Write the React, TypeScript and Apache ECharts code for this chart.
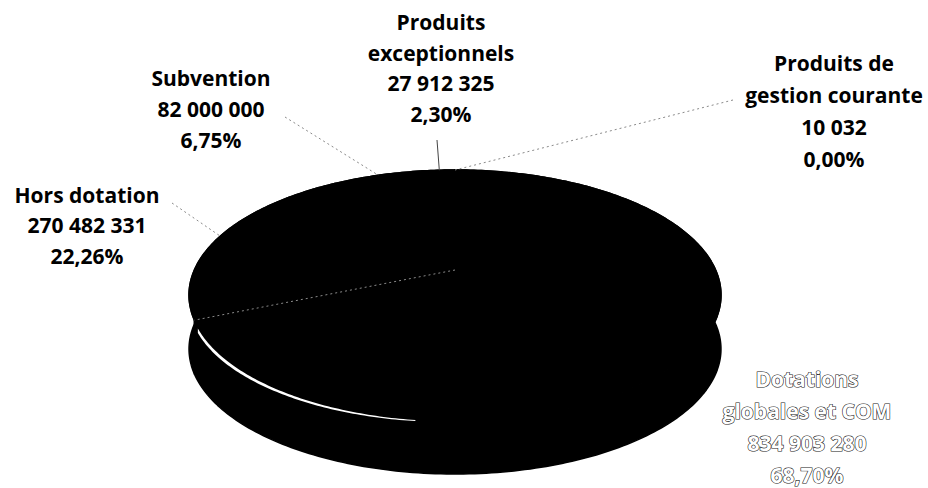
import React, { useEffect, useRef } from "react";
import * as echarts from "echarts";

// ---- data ----
const categories = [
  "Dotations globales et COM",
  "Hors dotation",
  "Subvention",
  "Produits exceptionnels",
  "Produits de gestion courante",
];
const labelNames = [
  "Dotations\nglobales et COM",
  "Hors dotation",
  "Subvention",
  "Produits\nexceptionnels",
  "Produits de\ngestion courante",
];
const values = [834903280, 270482331, 82000000, 27912325, 10032];

// ---- layout (pixels) ----
const CX = 455;
const CY = 270;
const SX = 260.6;
const SY = 120;
const K = -0.2; // perspective
const DEPTH = 54;
const labelCenters: number[][] = [
  [807, 427],
  [87, 225],
  [211, 109],
  [441, 68],
  [834, 111],
];
const labelLineHeights = [32, 30.5, 31, 30.7, 32];
const labelLineStarts: (number[] | null)[] = [
  null,
  [172, 203],
  [285, 117],
  [437, 140],
  [733, 100],
];

const total = values.reduce((a, b) => a + b, 0);
const starts: number[] = [];
const ends: number[] = [];
{
  let acc = 0;
  values.forEach((v) => {
    starts.push((acc / total) * 360);
    acc += v;
    ends.push((acc / total) * 360);
  });
}

function proj(thetaDeg: number, r = 1): [number, number] {
  const t = (thetaDeg * Math.PI) / 180;
  const u = r * Math.sin(t);
  const v = -r * Math.cos(t);
  const d = 1 + K * v;
  return [CX + (SX * u) / d, CY + (SY * v) / d];
}

function rim(a0: number, a1: number, dy = 0): number[][] {
  const pts: number[][] = [];
  const n = Math.max(2, Math.ceil(Math.abs(a1 - a0) / 1));
  for (let i = 0; i <= n; i++) {
    const a = a0 + ((a1 - a0) * i) / n;
    const p = proj(a);
    pts.push([p[0], p[1] + dy]);
  }
  return pts;
}

const fmtNum = (v: number) => String(v).replace(/\B(?=(\d{3})+(?!\d))/g, " ");
const fmtPct = (v: number) => ((v / total) * 100).toFixed(2).replace(".", ",") + "%";

export default function App() {
  const ref = useRef<HTMLDivElement>(null);
  useEffect(() => {
    if (!ref.current) return;
    const chart = echarts.init(ref.current, undefined, { renderer: "svg" });
    const renderItem = (params: any, api: any) => {
      const idx = params.dataIndex;
      const value = api.value(1);
      const a0 = starts[idx];
      const a1 = ends[idx];
      const children: any[] = [];
      const top = rim(a0, a1);
      const bottom = rim(a0, a1, DEPTH).reverse();
      children.push({
        type: "polygon",
        shape: { points: top.concat(bottom) },
        style: { fill: "#000", stroke: "#000", lineWidth: 1.5, lineJoin: "round" },
        z2: 1,
      });
      children.push({
        type: "polygon",
        shape: { points: [[CX, CY]].concat(top) },
        style: { fill: "#000", stroke: "#000", lineWidth: 1.5, lineJoin: "round" },
        z2: 5,
      });
      if (idx === 0) {
        const p = proj(a1);
        children.push({
          type: "line",
          shape: { x1: CX, y1: CY, x2: p[0], y2: p[1] },
          style: { stroke: "#8a8a8a", lineWidth: 1, lineDash: [2, 3] },
          z2: 10,
        });
        // rim highlight
        const hs = a1 - 3;
        const he = 187;
        const n = 80;
        const outer: number[][] = [];
        const inner: number[][] = [];
        for (let i = 0; i <= n; i++) {
          const t = i / n;
          const a = hs + (he - hs) * t;
          const q = proj(a);
          const w = 4.5 * (1 - t) + 1 * t;
          outer.push([q[0], q[1] + 1.5]);
          inner.push([q[0], q[1] + 1.5 + w]);
        }
        children.push({
          type: "polygon",
          shape: { points: outer.concat(inner.reverse()) },
          style: { fill: "#fff" },
          z2: 11,
        });
      }
      const ls = labelLineStarts[idx];
      if (ls) {
        const e = proj((a0 + a1) / 2);
        children.push({
          type: "line",
          shape: { x1: ls[0], y1: ls[1], x2: e[0], y2: e[1] },
          style:
            idx === 3
              ? { stroke: "#444", lineWidth: 1 }
              : { stroke: "#8a8a8a", lineWidth: 1, lineDash: [2, 3] },
          z2: 10,
        });
      }
      const c = labelCenters[idx];
      const isInside = idx === 0;
      children.push({
        type: "text",
        x: c[0],
        y: c[1],
        style: {
          text: labelNames[idx] + "\n" + fmtNum(value) + "\n" + fmtPct(value),
          fill: isInside ? "#fff" : "#000",
          stroke: isInside ? "#222" : undefined,
          lineWidth: isInside ? 1.2 : 0,
          fontFamily: "Open Sans",
          fontWeight: "bold",
          fontSize: 21,
          align: "center",
          verticalAlign: "middle",
          lineHeight: labelLineHeights[idx],
        },
        z2: 20,
      });
      return { type: "group", children };
    };
    chart.setOption({
      animation: false,
      backgroundColor: "#fff",
      series: [
        {
          type: "custom",
          name: "Produits",
          coordinateSystem: "none",
          renderItem,
          data: values.map((v, i) => ({ name: categories[i], value: [i, v] })),
        },
      ],
    });
    return () => chart.dispose();
  }, []);
  return (
    <div
      ref={ref}
      style={{ position: "fixed", left: 0, top: 0, width: 928, height: 488 }}
    />
  );
}
